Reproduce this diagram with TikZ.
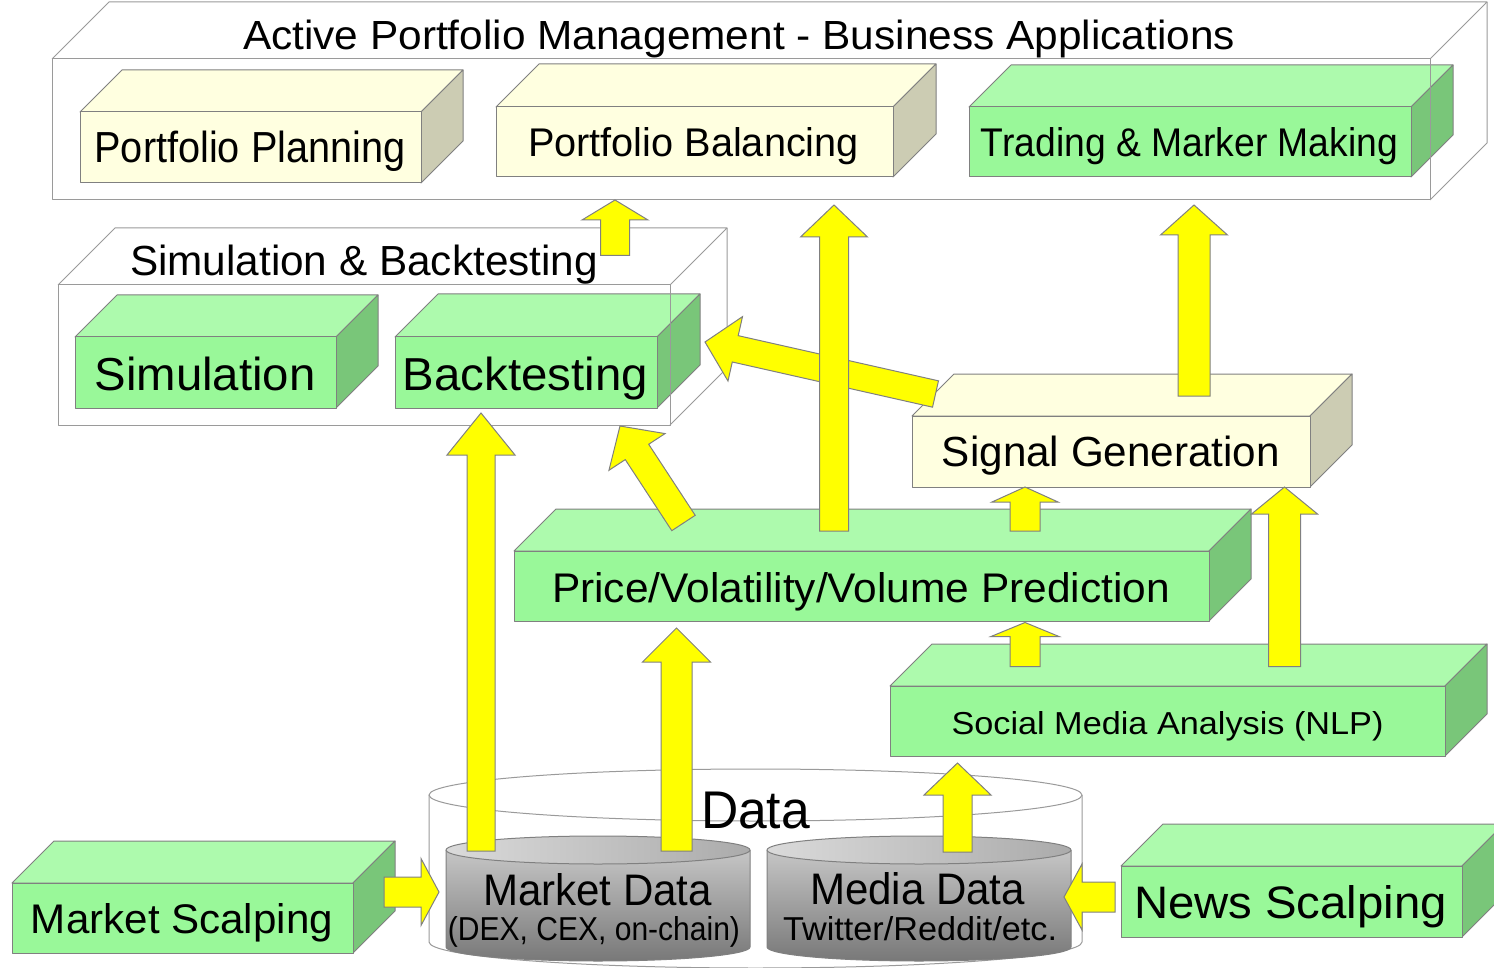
\documentclass[tikz,border=0pt]{standalone}
\usepackage{fontspec}
\setmainfont{Liberation Sans}
\usetikzlibrary{calc}
\definecolor{gfront}{HTML}{99F899}
\definecolor{gtop}{HTML}{ADFAAD}
\definecolor{gside}{HTML}{79C679}
\definecolor{cfront}{HTML}{FFFFE0}
\definecolor{ctop}{HTML}{FFFFE0}
\definecolor{cside}{HTML}{CCCCB3}
\definecolor{edge}{HTML}{808080}
\definecolor{cedge}{HTML}{9A9A9A}
\definecolor{arrfill}{HTML}{FFFF00}
\definecolor{cylA}{HTML}{C6C6C6}
\definecolor{cylB}{HTML}{787878}
\definecolor{cylC}{HTML}{DADADA}
\definecolor{cylD}{HTML}{ABABAB}

\tikzset{
  faceline/.style={draw=edge, line width=1pt, line join=round},
  contline/.style={draw=cedge, line width=1pt, line join=round},
  arr/.style={fill=arrfill, draw=edge, line width=1pt, line join=miter},
  lbl/.style={anchor=base, inner sep=0pt, outer sep=0pt, text=black},
}

% 3D box: name x1 y1 x2 y2 depth front top side
\newcommand\cube[9]{%
  \filldraw[faceline, fill=#8] (#2,#3) -- ({#2+#6},{#3-#6}) -- ({#4+#6},{#3-#6}) -- (#4,#3) -- cycle;
  \filldraw[faceline, fill=#9] (#4,#3) -- ({#4+#6},{#3-#6}) -- ({#4+#6},{#5-#6}) -- (#4,#5) -- cycle;
  \node[faceline, fill=#7, rectangle, inner sep=0pt, outer sep=0pt, anchor=north west,
        minimum width={(#4-#2)*1pt}, minimum height={(#5-#3)*1pt}] (#1) at (#2,#3) {};
}
% transparent container: name x1 y1 x2 y2 depth
\newcommand\container[6]{%
  \node[contline, rectangle, inner sep=0pt, outer sep=0pt, anchor=north west,
        minimum width={(#4-#2)*1pt}, minimum height={(#5-#3)*1pt}] (#1) at (#2,#3) {};
  \draw[contline] (#2,#3) -- ({#2+#6},{#3-#6}) -- ({#4+#6},{#3-#6}) -- (#4,#3);
  \draw[contline] ({#4+#6},{#3-#6}) -- ({#4+#6},{#5-#6}) -- (#4,#5);
}
% cylinder: name x1 x2 topcentre bottomcentre ry
\newcommand\cyl[6]{%
  \pgfmathsetmacro\crx{(#3-#2)/2}%
  \coordinate (#1) at ({(#2+#3)/2},#4);
  \shade[top color=cylA, bottom color=cylB] (#2,#4) -- (#2,#5)
     arc[start angle=180, end angle=360, x radius={\crx*1pt}, y radius={#6*1pt}] -- (#3,#4) -- cycle;
  \draw[faceline] (#2,#4) -- (#2,#5)
     arc[start angle=180, end angle=360, x radius={\crx*1pt}, y radius={#6*1pt}] -- (#3,#4);
  \shade[left color=cylC, right color=cylD] (#1) ellipse[x radius={\crx*1pt}, y radius={#6*1pt}];
  \draw[faceline] (#1) ellipse[x radius={\crx*1pt}, y radius={#6*1pt}];
}
% fitted text: name cx baseline width height text
\newcommand\txt[6]{%
  \node[lbl] (#1) at (#2,#3) {\resizebox{#4pt}{#5pt}{#6}};
}
% block arrow: tail tip halfshaft halfhead headlength
\newcommand\barrow[5]{%
  \coordinate (nk) at ($(#2)!#5pt!(#1)$);
  \filldraw[arr] ($(#1)!#3pt!90:(#2)$) -- ($(nk)!#3pt!90:(#2)$) -- ($(nk)!#4pt!90:(#2)$) -- (#2)
     -- ($(nk)!#4pt!-90:(#2)$) -- ($(nk)!#3pt!-90:(#2)$) -- ($(#1)!#3pt!-90:(#2)$) -- cycle;
}

\begin{document}
\begin{tikzpicture}[x=1pt,y=-1pt,font=\fontsize{40}{48}\selectfont]
\useasboundingbox (0,0) rectangle (1494,968);
\clip (0,0) rectangle (1494,968);
\fill[white] (0,0) rectangle (1494,968);

% ---------- Data store ----------
\coordinate (datatop) at (755.5,795);
\draw[contline] (429,795) -- (429,942)
   arc[start angle=180, end angle=360, x radius=326.5pt, y radius=26pt] -- (1082,795);
\draw[contline] (datatop) ellipse[x radius=326.5pt, y radius=26pt];
\cyl{mkt}{446}{750}{850}{947}{14}
\cyl{med}{767}{1071}{850}{947}{14}

% ---------- boxes ----------
\cube{plan}{80}{112}{421}{183}{42}{cfront}{ctop}{cside}
\cube{bal}{496}{107}{893}{177}{43}{cfront}{ctop}{cside}
\cube{trade}{969}{107}{1411}{177}{42}{gfront}{gtop}{gside}
\cube{sim}{75}{337}{336}{408}{42}{gfront}{gtop}{gside}
\cube{bt}{395}{337}{657}{408}{43}{gfront}{gtop}{gside}
\cube{sig}{912}{416}{1310}{487}{42}{cfront}{ctop}{cside}
\cube{pred}{514}{551}{1209}{621}{42}{gfront}{gtop}{gside}
\cube{soc}{890}{686}{1445}{756}{42}{gfront}{gtop}{gside}
\cube{mscalp}{12}{883}{353}{953}{42}{gfront}{gtop}{gside}
\cube{nscalp}{1121}{866}{1462}{937}{42}{gfront}{gtop}{gside}

% ---------- containers ----------
\container{apm}{52}{59}{1430}{200}{57}
\container{simbt}{58}{285}{670}{425}{57}

% ---------- texts ----------
\txt{tapm}{739}{50}{992}{29.5}{Active Portfolio Management - Business Applications}
\txt{tplan}{250}{162.5}{311}{31.5}{Portfolio Planning}
\txt{tbal}{693.5}{157}{331}{29}{Portfolio Balancing}
\txt{ttrade}{1189.5}{156.5}{417}{29}{Trading \& Marker Making}
\txt{tsimbt}{364}{275.5}{468}{30.5}{Simulation \& Backtesting}
\txt{tsim}{205}{390}{221}{33.5}{Simulation}
\txt{tbt}{525.5}{390}{245}{33.5}{Backtesting}
\txt{tsig}{1111}{466.5}{338}{30.5}{Signal Generation}
\txt{tpred}{861}{602}{618}{30}{Price/Volatility/Volume Prediction}
\txt{tsoc}{1167.5}{734}{432}{23}{Social Media Analysis (NLP)}
\txt{tmscalp}{182}{933}{302}{30}{Market Scalping}
\txt{tnscalp}{1290.5}{918}{313}{33}{News Scalping}
\txt{tdata}{755.5}{828}{109}{36.5}{Data}
\txt{tmkt}{597.5}{905}{229}{32}{Market Data}
\txt{tmkt2}{594}{940}{292}{24}{(DEX, CEX, on-chain)}
\txt{tmed}{917.5}{904}{215}{32}{Media Data}
\txt{tmed2}{920}{940}{274}{24}{Twitter/Reddit/etc.}

% ---------- arrow end points ----------
\coordinate (a1t) at (481,851);    \coordinate (a1h) at (481,413);
\coordinate (a2t) at (676.5,851);  \coordinate (a2h) at (676.5,628);
\coordinate (a3t) at (957.5,852);  \coordinate (a3h) at (957.5,763);
\coordinate (a4t) at (384,892);    \coordinate (a4h) at (439,892);
\coordinate (a5t) at (1115,897);   \coordinate (a5h) at (1064,897);
\coordinate (a6t) at (1025,666.5); \coordinate (a6h) at (1025,622.5);
\coordinate (a7t) at (1284.5,666.5); \coordinate (a7h) at (1284.5,487);
\coordinate (a8t) at (1025,531);   \coordinate (a8h) at (1025,487);
\coordinate (a9t) at (834,531);    \coordinate (a9h) at (834,205);
\coordinate (a10t) at (683.5,523); \coordinate (a10h) at (620,426);
\coordinate (a11t) at (935.5,394); \coordinate (a11h) at (705,342);
\coordinate (a12t) at (1194,396);  \coordinate (a12h) at (1194,205);
\coordinate (a13t) at (615,255.5); \coordinate (a13h) at (615,200);

% ---------- arrows ----------
\barrow{a1t}{a1h}{14}{34}{42}
\barrow{a2t}{a2h}{15.5}{34}{34}
\barrow{a3t}{a3h}{14.5}{33.5}{32}
\barrow{a4t}{a4h}{15}{33.5}{18}
\barrow{a5t}{a5h}{15}{33}{18}
\barrow{a6t}{a6h}{15}{34}{14}
\barrow{a7t}{a7h}{16}{33}{27}
\barrow{a8t}{a8h}{15}{33}{15}
\barrow{a10t}{a10h}{14}{33.5}{31}
\barrow{a11t}{a11h}{13.5}{33}{31}
\barrow{a9t}{a9h}{14.5}{33.5}{32}
\barrow{a12t}{a12h}{16}{33.5}{30}
\barrow{a13t}{a13h}{14.5}{33}{20}
\end{tikzpicture}
\end{document}
